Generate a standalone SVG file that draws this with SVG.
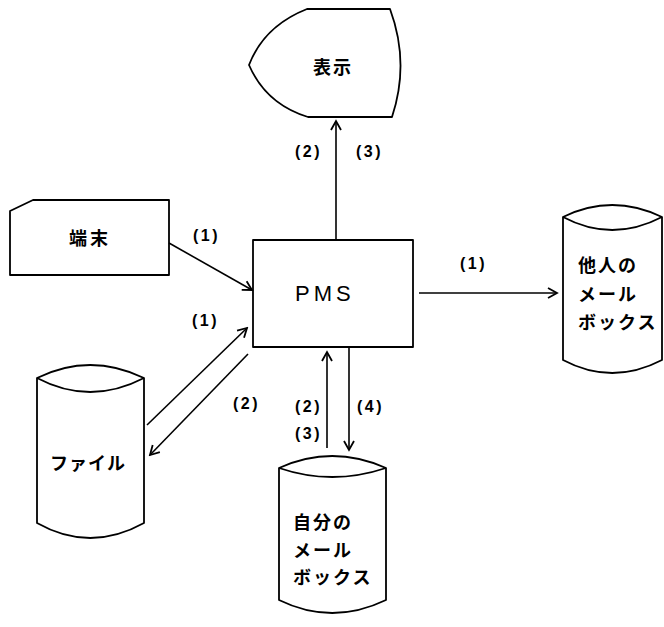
<svg xmlns="http://www.w3.org/2000/svg" width="664" height="627" viewBox="0 0 664 627">
<style>
.shape{fill:#fff;stroke:#000;stroke-width:1.8;stroke-linejoin:round}
.jp{font-family:"Noto Sans CJK JP","Noto Sans CJK SC",sans-serif;font-weight:bold;font-size:18px;fill:#000}
.lbl{font-family:"Liberation Sans",Arial,sans-serif;font-weight:bold;font-size:16px;letter-spacing:2.5px;fill:#000}
.pms{font-family:"Liberation Sans",Arial,sans-serif;font-size:22px;letter-spacing:4px;fill:#000}
.conn{fill:none;stroke:#000;stroke-width:1.6}
</style>
<defs>
<marker id="arr" markerUnits="userSpaceOnUse" markerWidth="14" markerHeight="14" viewBox="-12 -7 14 14" refX="0" refY="0" orient="auto">
<path d="M-9,-5 L0,0 L-9,5" fill="none" stroke="#000" stroke-width="1.8"/>
</marker>
</defs>
<rect width="664" height="627" fill="#fff"/>
<g id="display">
<path class="shape" d="M307,9 L390,9 Q410,63 392,117 L308,117 Q266,104 249,65 Q264,26 307,9 Z"/>
<text class="jp" x="333" y="74" text-anchor="middle" letter-spacing="2">表示</text>
</g>
<g id="terminal">
<path class="shape" d="M33,200 L169,200 L169,275 L10,275 L10,211 Z"/>
<text class="jp" x="90" y="245" text-anchor="middle" letter-spacing="3">端末</text>
</g>
<g id="pms">
<rect class="shape" x="253" y="240" width="160" height="107"/>
<text class="pms" x="295" y="301">PMS</text>
</g>
<g id="others-mailbox">
<path class="shape" d="M563,217 L563,360 Q612,386 662,360 L662,217 Q612,193 563,217 Z"/>
<path class="shape" fill="none" d="M563,217 Q612,243 662,217"/>
<text class="jp" x="578" y="272" letter-spacing="2">他人の</text>
<text class="jp" x="578" y="301" letter-spacing="2">メール</text>
<text class="jp" x="578" y="329" letter-spacing="2">ボックス</text>
</g>
<g id="file">
<path class="shape" d="M37,378 L37,523 Q90,553 144,523 L144,378 Q90,352 37,378 Z"/>
<path class="shape" fill="none" d="M37,378 Q90,406 144,378"/>
<text class="jp" x="50" y="470" letter-spacing="1">ファイル</text>
</g>
<g id="own-mailbox">
<path class="shape" d="M279,468 L279,600 Q332,626 386,600 L386,468 Q332,444 279,468 Z"/>
<path class="shape" fill="none" d="M279,468 Q332,486 386,468"/>
<text class="jp" x="293" y="529" letter-spacing="2">自分の</text>
<text class="jp" x="293" y="557" letter-spacing="2">メール</text>
<text class="jp" x="293" y="584" letter-spacing="2">ボックス</text>
</g>
<g id="connectors">
<line class="conn" x1="169" y1="243" x2="252" y2="290" marker-end="url(#arr)"/>
<line class="conn" x1="419" y1="293" x2="557" y2="293" marker-end="url(#arr)"/>
<line class="conn" x1="336" y1="240" x2="336" y2="121" marker-end="url(#arr)"/>
<line class="conn" x1="147" y1="425" x2="247" y2="328" marker-end="url(#arr)"/>
<line class="conn" x1="248" y1="354" x2="150" y2="455" marker-end="url(#arr)"/>
<line class="conn" x1="327" y1="448" x2="327" y2="352" marker-end="url(#arr)"/>
<line class="conn" x1="349" y1="348" x2="349" y2="450" marker-end="url(#arr)"/>
<text class="lbl" x="193" y="241">(1)</text>
<text class="lbl" x="460" y="269">(1)</text>
<text class="lbl" x="192" y="326">(1)</text>
<text class="lbl" x="233" y="409">(2)</text>
<text class="lbl" x="295" y="157">(2)</text>
<text class="lbl" x="356" y="157">(3)</text>
<text class="lbl" x="295" y="412">(2)</text>
<text class="lbl" x="295" y="439">(3)</text>
<text class="lbl" x="357" y="412">(4)</text>
</g>
</svg>
